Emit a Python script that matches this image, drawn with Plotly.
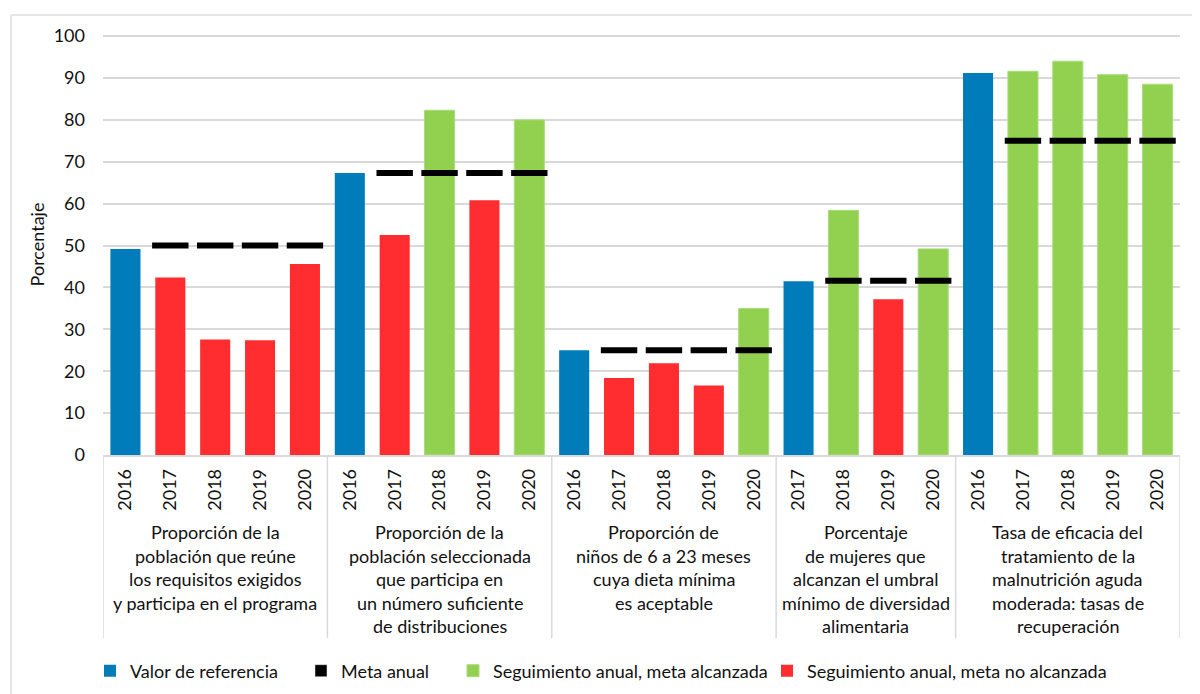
import plotly.graph_objects as go

FONT = "Lato"
TEXT = "#111111"

# --- data -------------------------------------------------------------
years = ["2016", "2017", "2018", "2019", "2020",
         "2016", "2017", "2018", "2019", "2020",
         "2016", "2017", "2018", "2019", "2020",
         "2017", "2018", "2019", "2020",
         "2016", "2017", "2018", "2019", "2020"]

valor_referencia = [49.2, None, None, None, None,
                    67.3, None, None, None, None,
                    25.0, None, None, None, None,
                    41.5, None, None, None,
                    91.2, None, None, None, None]

meta_alcanzada = [None, None, None, None, None,
                  None, None, 82.3, None, 80.0,
                  None, None, None, None, 35.0,
                  None, 58.4, None, 49.2,
                  None, 91.6, 94.0, 90.8, 88.5]

meta_no_alcanzada = [None, 42.4, 27.6, 27.4, 45.6,
                     None, 52.5, None, 60.8, None,
                     None, 18.4, 21.9, 16.6, None,
                     None, None, 37.2, None,
                     None, None, None, None, None]

meta_anual = [None, 50, 50, 50, 50,
              None, 67.3, 67.3, 67.3, 67.3,
              None, 25, 25, 25, 25,
              None, 41.6, 41.6, 41.6,
              None, 75, 75, 75, 75]

group_sizes = [5, 5, 5, 4, 5]
group_labels = [
    ["Proporción de la", "población que reúne", "los requisitos exigidos",
     "y participa en el programa"],
    ["Proporción de la", "población seleccionada", "que participa en",
     "un número suficiente", "de distribuciones"],
    ["Proporción de", "niños de 6 a 23 meses", "cuya dieta mínima",
     "es aceptable"],
    ["Porcentaje", "de mujeres que", "alcanzan el umbral",
     "mínimo de diversidad", "alimentaria"],
    ["Tasa de eficacia del", "tratamiento de la", "malnutrición aguda",
     "moderada: tasas de", "recuperación"],
]

BLUE = "#007CBB"
GREEN = "#92D050"
RED = "#FF2D2F"
GRID = "#D9D9D9"

x = list(range(len(years)))

# the page body adds an 8px margin, so lay out in screen pixels minus 8
OFF = 8
W, H = 1200 - OFF, 694 - OFF
PX_L, PX_R, PX_T, PX_B = 103 - OFF, 1180 - OFF, 34 - OFF, 455 - OFF
def px_x(p):
    return (p - OFF - PX_L) / (PX_R - PX_L)
def px_y(p):
    return (PX_B - (p - OFF)) / (PX_B - PX_T)

fig = go.Figure()
fig.add_trace(go.Bar(x=x, y=valor_referencia, name="Valor de referencia",
                     marker_color=BLUE, marker_line_width=0, width=0.67,
                     legend="legend"))
fig.add_trace(go.Bar(x=[None], y=[None], name="Meta anual",
                     marker_color="black", legend="legend2"))
fig.add_trace(go.Bar(x=x, y=meta_alcanzada,
                     name="Seguimiento anual, meta alcanzada",
                     marker_color=GREEN, marker_line_color="#A9DC7E",
                     marker_line_width=1, width=0.67, legend="legend3"))
fig.add_trace(go.Bar(x=x, y=meta_no_alcanzada,
                     name="Seguimiento anual, meta no alcanzada",
                     marker_color=RED, marker_line_width=0, width=0.67,
                     legend="legend4"))
fig.add_trace(go.Scatter(x=x, y=meta_anual, mode="markers", showlegend=False,
                         marker=dict(symbol="line-ew", size=26,
                                     line=dict(width=6, color="black"))))

# group dividers below the axis
bounds = [-0.5]
for n in group_sizes:
    bounds.append(bounds[-1] + n)
for b in bounds:
    fig.add_shape(type="line", xref="x", yref="paper", x0=b, x1=b,
                  y0=0, y1=px_y(638), line=dict(color=GRID, width=1.5))

# group labels, one annotation per line
line_ys = [532, 555.5, 579, 602.5, 626]
for i, lines in enumerate(group_labels):
    cx = (bounds[i] + bounds[i + 1]) / 2
    for j, t in enumerate(lines):
        fig.add_annotation(x=cx, xref="x", y=px_y(line_ys[j]), yref="paper",
                           text=t, showarrow=False, yanchor="middle",
                           font=dict(family=FONT, size=18, color=TEXT))

# outer frame (top and left edges)
fig.add_shape(type="line", xref="paper", yref="paper",
              x0=px_x(11), x1=px_x(1200), y0=px_y(15), y1=px_y(15),
              line=dict(color="#E6E6E6", width=2))
fig.add_shape(type="line", xref="paper", yref="paper",
              x0=px_x(11), x1=px_x(11), y0=px_y(15), y1=px_y(694),
              line=dict(color="#E6E6E6", width=2))

legend_style = dict(orientation="h", xref="container", yref="container",
                    yanchor="middle", y=1 - (671 - OFF) / H, xanchor="left",
                    font=dict(family=FONT, size=18, color=TEXT),
                    bgcolor="rgba(0,0,0,0)")

fig.update_layout(
    width=W, height=H,
    margin=dict(l=PX_L, r=W - PX_R, t=PX_T, b=H - PX_B, autoexpand=False),
    paper_bgcolor="white", plot_bgcolor="white",
    barmode="overlay",
    font=dict(family=FONT, size=16, color=TEXT),
    legend=dict(legend_style, x=82 / W),
    legend2=dict(legend_style, x=293 / W),
    legend3=dict(legend_style, x=445 / W),
    legend4=dict(legend_style, x=759 / W),
    xaxis=dict(range=[-0.5, len(years) - 0.5], tickmode="array",
               tickvals=x, ticktext=years, tickangle=-90, automargin=False,
               showgrid=False, showline=True, linecolor=GRID, linewidth=1.5,
               ticks="", ticklabelstandoff=5, zeroline=False,
               tickfont=dict(family=FONT, size=18, color=TEXT)),
    yaxis=dict(range=[0, 100.5], tickvals=list(range(0, 101, 10)),
               automargin=False,
               showgrid=True, gridcolor=GRID, gridwidth=1.5,
               zeroline=False, showline=False, ticks="",
               ticklabelstandoff=17,
               tickfont=dict(family=FONT, size=18, color=TEXT),
               title=dict(text="Porcentaje", standoff=4,
                          font=dict(family=FONT, size=18, color=TEXT))),
)

fig.write_html("out.html")
